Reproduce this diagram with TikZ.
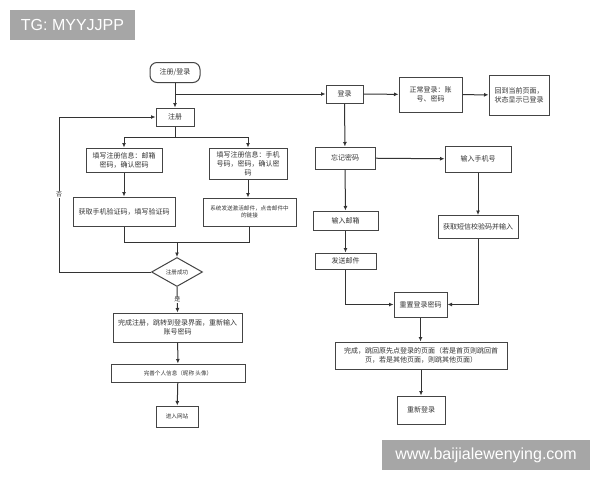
\documentclass[tikz,border=0pt]{standalone}
\usepackage{fontspec}
\setmainfont{Liberation Sans}
\newfontfamily\cjk{Noto Sans CJK SC}
\usetikzlibrary{arrows.meta,shapes.geometric,calc}
\definecolor{ln}{HTML}{333333}
\definecolor{bd}{HTML}{444444}
\definecolor{tx}{HTML}{333333}
\definecolor{wm}{HTML}{A6A6A6}
\tikzset{
  box/.style={draw=bd, line width=1pt, fill=white, inner sep=1pt, align=center,
    font=\cjk\fontsize{7}{9}\selectfont, text=tx},
  smallbox/.style={box, font=\cjk\fontsize{5.6}{7.5}\selectfont},
  arr/.style={draw=ln, line width=1pt, -{Latex[length=4.5pt,width=4pt]}},
  ln/.style={draw=ln, line width=1pt},
  lab/.style={fill=white, inner sep=0.5pt, font=\cjk\fontsize{6}{7}\selectfont, text=tx},
  wmark/.style={fill=wm, text=white, inner sep=0pt, font=\fontsize{16}{18}\selectfont}
}
\begin{document}
\begin{tikzpicture}[x=1pt,y=-1pt]
\useasboundingbox[fill=white] (0,0) rectangle (600,480);

% watermarks
\node[wmark, minimum width=125pt, minimum height=30pt] (tg) at (72.5,25) {TG: MYYJJPP};
\node[wmark, minimum width=208pt, minimum height=30pt] (www) at (486,455) {www.baijialewenying.com};

% left column
\node[box, rounded corners=7pt, minimum width=50pt, minimum height=20pt] (start) at (175,72.5) {注册/登录};
\node[box, minimum width=38pt, minimum height=18pt] (reg) at (175,117) {注册};
\node[box, minimum width=76pt, minimum height=24pt] (A) at (124,160) {填写注册信息：邮箱\\密码，确认密码};
\node[box, minimum width=78pt, minimum height=31pt] (B) at (248,163.5) {填写注册信息：手机\\号码，密码，确认密\\码};
\node[box, minimum width=102pt, minimum height=29pt] (C) at (124,211.5) {获取手机验证码，填写验证码};
\node[smallbox, minimum width=93pt, minimum height=28pt] (D) at (249.5,212) {系统发送激活邮件，点击邮件中\\的链接};
\node[draw=bd, line width=1pt, fill=white, diamond, aspect=1.76, inner sep=0pt,
      minimum width=51pt, minimum height=29pt, font=\cjk\fontsize{5.6}{7}\selectfont, text=tx] (dia) at (177,272) {注册成功};
\node[box, minimum width=129pt, minimum height=29pt] (E) at (177.5,327.5) {完成注册，跳转到登录界面，重新输入\\账号密码};
\node[smallbox, minimum width=134pt, minimum height=18pt] (F) at (178,373) {完善个人信息（昵称 头像）};
\node[smallbox, minimum width=42pt, minimum height=21pt] (G) at (177,416.5) {进入网站};

% right column
\node[box, minimum width=37pt, minimum height=18pt] (login) at (344.5,94) {登录};
\node[box, minimum width=63pt, minimum height=35pt] (normal) at (430.5,94.5) {正常登录：账\\号、密码};
\node[box, minimum width=60pt, minimum height=40pt] (back) at (519,95) {回到当前页面，\\状态显示已登录};
\node[box, minimum width=60pt, minimum height=22pt] (forgot) at (345,158) {忘记密码};
\node[box, minimum width=66pt, minimum height=26pt] (phone) at (478,159) {输入手机号};
\node[box, minimum width=65pt, minimum height=19pt] (email) at (345.5,220.5) {输入邮箱};
\node[box, minimum width=80pt, minimum height=23pt] (sms) at (478,227) {获取短信校验码并输入};
\node[box, minimum width=61pt, minimum height=16pt] (send) at (345.5,261) {发送邮件};
\node[box, minimum width=53pt, minimum height=25pt] (reset) at (420.5,304.5) {重置登录密码};
\node[box, minimum width=172pt, minimum height=27pt] (done) at (421,355.5) {完成，跳回原先点登录的页面（若是首页则跳回首\\页，若是其他页面，则跳其他页面）};
\node[box, minimum width=48pt, minimum height=28pt] (relogin) at (421,410) {重新登录};

% junction points
\coordinate (j1) at (175,94);
\coordinate (j2) at (175,137);
\coordinate (j3) at (177,242);
\coordinate (jl) at (59,272);

% connectors left
\draw[arr] (start) -- (reg);
\draw[arr] (j1) -- (login.west);
\draw[ln] (reg.south) -- (j2);
\draw[arr] (j2) -| (A.north);
\draw[arr] (j2) -| (B.north);
\draw[arr] (A) -- (C);
\draw[arr] (B) -- (B |- D.north);
\draw[ln] (C.south) |- (j3);
\draw[ln] (D.south) |- (j3);
\draw[arr] (j3) -- (dia.north);
\draw[arr] (dia.west) -- (jl) |- (reg.west) node[pos=0.25, lab] {否};
\draw[arr] (dia.south) -- (E.north) node[midway, lab] {是};
\draw[arr] (E) -- (F);
\draw[arr] (F) -- (G);

% connectors right
\draw[arr] (login) -- (normal);
\draw[arr] (normal) -- (back);
\draw[arr] (login) -- (forgot);
\draw[arr] (forgot) -- (phone);
\draw[arr] (forgot) -- (email);
\draw[arr] (email) -- (send);
\draw[arr] (phone) -- (sms);
\draw[arr] (send.south) |- (reset.west);
\draw[arr] (sms.south) |- (reset.east);
\draw[arr] (reset) -- (reset |- done.north);
\draw[arr] (done) -- (relogin);
\end{tikzpicture}
\end{document}
